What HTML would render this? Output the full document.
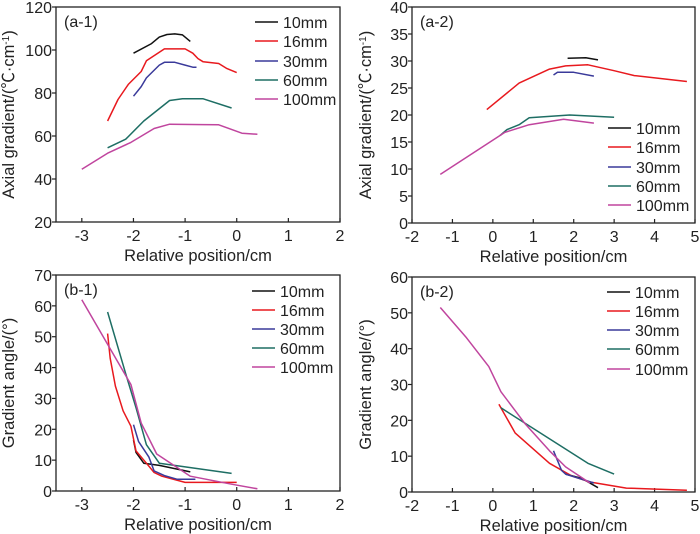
<!DOCTYPE html>
<html><head><meta charset="utf-8"><style>
html,body{margin:0;padding:0;background:#fff;}
svg{display:block;font-family:"Liberation Sans","Noto Sans CJK SC",sans-serif;}
</style></head><body>
<svg id="c" width="700" height="534" xmlns="http://www.w3.org/2000/svg"></svg>
<script>
const seriesNames = ["10mm","16mm","30mm","60mm","100mm"];
const colors = ["#111111","#e8191e","#3a3a9a","#1e6e64","#c0459e"];

const a1_10 = [[-2,98.5],[-1.65,103],[-1.5,106],[-1.35,107.2],[-1.2,107.5],[-1.05,107],[-0.9,104]];
const a1_16 = [[-2.5,67],[-2.3,77],[-2.1,84],[-1.85,90],[-1.75,95],[-1.5,99],[-1.4,100.5],[-1.0,100.5],[-0.85,98.5],[-0.75,96],[-0.65,94.5],[-0.35,93.7],[-0.2,91.5],[0,89.5]];
const a1_30 = [[-2,78.5],[-1.85,83],[-1.75,87],[-1.5,93],[-1.4,94.3],[-1.2,94.3],[-1.0,93],[-0.85,92],[-0.78,92]];
const a1_60 = [[-2.5,54.5],[-2.15,58.5],[-1.8,67],[-1.3,76.5],[-1.05,77.3],[-0.65,77.3],[-0.1,73]];
const a1_100 = [[-3,44.5],[-2.5,52],[-2.05,57],[-1.6,63.5],[-1.3,65.5],[-0.65,65.3],[-0.35,65.2],[0.1,61.3],[0.4,60.8]];

const a2_10 = [[1.85,30.5],[2.3,30.6],[2.6,30.2]];
const a2_16 = [[-0.15,21],[0.65,25.9],[1.4,28.5],[1.8,29.1],[2.35,29.3],[3.0,28.2],[3.5,27.3],[4.8,26.2]];
const a2_30 = [[1.5,27.4],[1.6,27.9],[2.0,27.9],[2.5,27.2]];
const a2_60 = [[0.18,16.2],[0.35,17.3],[0.65,18.2],[0.9,19.5],[1.9,20],[3.0,19.6]];
const a2_100 = [[-1.3,9],[0.3,16.8],[0.9,18.2],[1.75,19.2],[2.5,18.5]];

const b1_10 = [[-2,16.5],[-1.95,12.5],[-1.8,9],[-1.5,8.3],[-0.9,6.2]];
const b1_16 = [[-2.5,51],[-2.45,43],[-2.35,34],[-2.2,26],[-2.05,21],[-1.95,13],[-1.75,9],[-1.6,6],[-1.45,4.8],[-1.0,2.8],[0,2.8]];
const b1_30 = [[-2,21.5],[-1.9,16],[-1.7,11],[-1.6,6.5],[-1.4,5],[-1.15,3.8],[-0.8,3.8]];
const b1_60 = [[-2.5,58],[-2.15,38],[-1.95,27],[-1.75,15],[-1.5,9],[-0.1,5.7]];
const b1_100 = [[-3,62],[-2.05,34.5],[-1.85,22],[-1.55,12],[-0.9,4.8],[-0.1,2.2],[0.4,0.7]];

const b2_10 = [[1.8,5],[2.2,3.8],[2.6,1.2]];
const b2_16 = [[0.15,24.5],[0.55,16.5],[1.4,8],[1.95,4.5],[2.4,2.8],[3.3,1.1],[4.8,0.5]];
const b2_30 = [[1.5,11.5],[1.7,6],[1.8,5],[2.5,2.5]];
const b2_60 = [[0.2,23.5],[2.35,8],[3.0,5]];
const b2_100 = [[-1.3,51.5],[-0.65,43],[-0.1,35],[0.2,28],[0.8,19],[1.4,11.5],[1.8,7],[2.4,2.5]];

const xTicksA = [-3,-2,-1,0,1,2];
const xTicksB = [-2,-1,0,1,2,3,4,5];
const yTicksA1 = [20,40,60,80,100,120];
const yTicksA2 = [0,5,10,15,20,25,30,35,40];
const yTicksB1 = [0,10,20,30,40,50,60,70];
const yTicksB2 = [0,10,20,30,40,50,60];

const NS = "http://www.w3.org/2000/svg";
const svg = document.getElementById("c");
function mk(tag, attrs, parent){const e=document.createElementNS(NS,tag);for(const k in attrs)e.setAttribute(k,attrs[k]);(parent||svg).appendChild(e);return e;}

function panel(p){
  const g = mk("g",{});
  
  
  const sx = v => p.L + (v - p.x0)/(p.x1 - p.x0)*(p.R - p.L);
  const sy = v => p.B - (v - p.y0)/(p.y1 - p.y0)*(p.B - p.T);
  const frame = mk("rect",{x:p.L,y:p.T,width:p.R-p.L,height:p.B-p.T,fill:"none",stroke:"#222","stroke-width":1.3},g);
  
  
  p.xt.forEach(v=>{
    mk("line",{x1:sx(v),x2:sx(v),y1:p.B,y2:p.B-4,stroke:"#222","stroke-width":1.2},g);
    const t = mk("text",{x:sx(v),y:p.B+19,"text-anchor":"middle","font-size":16,fill:"#222"},g);
    t.textContent = v;
    
    
  });
  p.yt.forEach(v=>{
    mk("line",{x1:p.L,x2:p.L-4,y1:sy(v),y2:sy(v),stroke:"#222","stroke-width":1.2},g);
    const t = mk("text",{x:p.L-4,y:sy(v)+6,"text-anchor":"end","font-size":16,fill:"#222"},g);
    t.textContent = v;
    
    
  });
  const xl = mk("text",{x:(p.L+p.R)/2,y:p.B+39,"text-anchor":"middle","font-size":16.5,fill:"#222"},g);
  xl.textContent = "Relative position/cm";
  
  
  const yl = mk("text",{x:0,y:0,"text-anchor":"middle","font-size":16.5,fill:"#222",transform:`translate(${p.ylx},${(p.T+p.B)/2}) rotate(-90)`},g);
  yl.innerHTML = p.ylabel;
  
  
  const tag = mk("text",{x:p.L+8,y:p.T+20,"font-size":16,fill:"#222"},g);
  tag.textContent = p.tag;
  
  
  p.data.forEach((d,i)=>{
    const pl = mk("polyline",{points:d.map(q=>sx(q[0]).toFixed(1)+","+sy(q[1]).toFixed(1)).join(" "),fill:"none",stroke:colors[i],"stroke-width":1.5,"stroke-linejoin":"round"},g);
    
    
  });
  seriesNames.forEach((n,i)=>{
    const y = p.legY[i];
    const ln = mk("line",{x1:p.legX,x2:p.legX+23,y1:y,y2:y,stroke:colors[i],"stroke-width":1.6},g);
    
    
    const t = mk("text",{x:p.legX+28,y:y+6,"font-size":16,fill:"#222"},g);
    t.textContent = n;
    
    
  });
}

const ylA = 'Axial gradient/(℃·cm<tspan dy="-5" font-size="10">-1</tspan><tspan dy="5">)</tspan>';
panel({id:"panel-a1",L:56,R:340,T:7,B:222,x0:-3.5,x1:2,y0:20,y1:120,xt:xTicksA,yt:yTicksA1,ylx:14,ylabel:ylA,tag:"(a-1)",
  data:[a1_10,a1_16,a1_30,a1_60,a1_100],legX:255,legY:[22,41,61,80,99]});
panel({id:"panel-a2",L:412,R:695,T:7,B:223,x0:-2,x1:5,y0:0,y1:40,xt:xTicksB,yt:yTicksA2,ylx:371,ylabel:ylA,tag:"(a-2)",
  data:[a2_10,a2_16,a2_30,a2_60,a2_100],legX:608,legY:[128,147,167,186,205]});
panel({id:"panel-b1",L:56,R:340,T:275,B:491,x0:-3.5,x1:2,y0:0,y1:70,xt:xTicksA,yt:yTicksB1,ylx:14,ylabel:"Gradient angle/(°)",tag:"(b-1)",
  data:[b1_10,b1_16,b1_30,b1_60,b1_100],legX:252,legY:[291,310,329,348,367]});
panel({id:"panel-b2",L:412,R:695,T:277,B:492,x0:-2,x1:5,y0:0,y1:60,xt:xTicksB,yt:yTicksB2,ylx:371,ylabel:"Gradient angle/(°)",tag:"(b-2)",
  data:[b2_10,b2_16,b2_30,b2_60,b2_100],legX:607,legY:[292,311,330,349,369]});
</script>
</body></html>
